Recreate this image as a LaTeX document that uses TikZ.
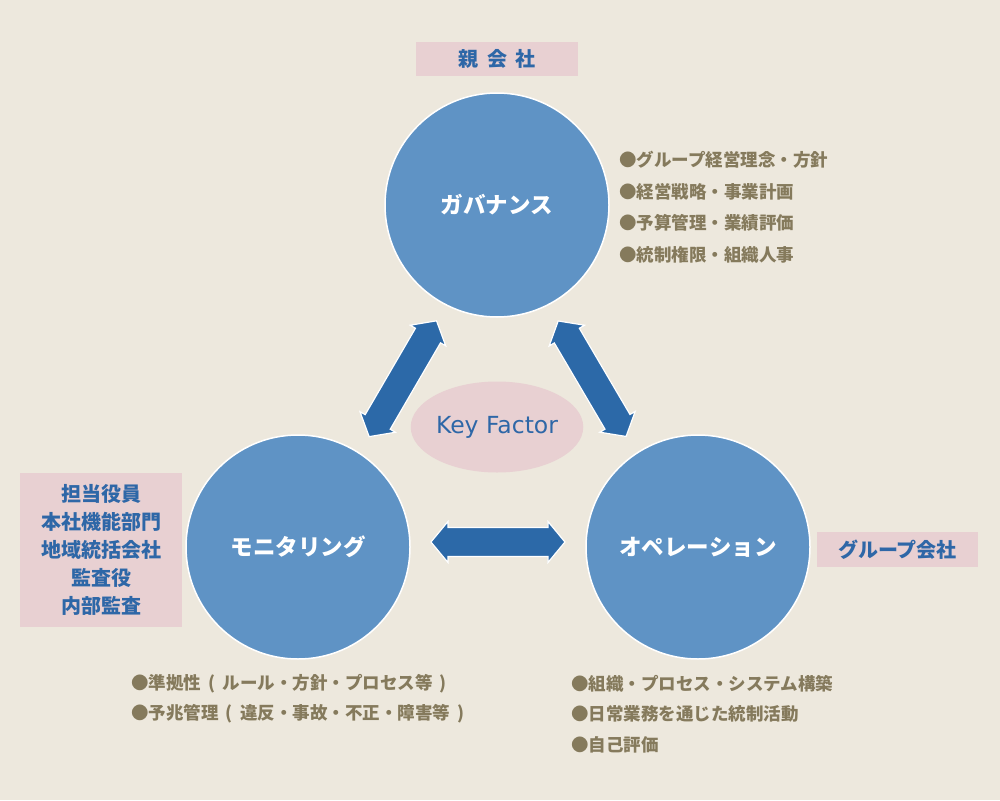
\documentclass[tikz,border=0pt]{standalone}
\usepackage{fontspec}
\setmainfont{Noto Sans CJK JP}
\newfontfamily\jpfont{Noto Sans CJK JP}
\newfontfamily\widejpfont{Noto Sans CJK JP}[WordSpace=1.8]
\newfontfamily\keyfont{DejaVu Sans}
\usetikzlibrary{shapes.geometric,calc}

\definecolor{paper}{HTML}{EDE8DD}
\definecolor{ballblue}{HTML}{5F93C5}
\definecolor{linkblue}{HTML}{2C69A8}
\definecolor{tagpink}{HTML}{E8D0D2}
\definecolor{tagtext}{HTML}{2E67A7}
\definecolor{notetext}{HTML}{857A5C}

\begin{document}
\begin{tikzpicture}[x=1pt,y=-1pt,
  ball/.style={circle, fill=ballblue, draw=white, line width=1.5pt, minimum size=224pt,
    inner sep=0pt, text=white, font=\jpfont\bfseries\fontsize{22.5}{26}\selectfont},
  tag/.style={fill=tagpink, text=tagtext, inner sep=0pt,
    font=\jpfont\bfseries\fontsize{20}{28}\selectfont},
  note/.style={anchor=west, inner sep=0pt, text=notetext,
    font=\jpfont\bfseries\fontsize{17.5}{21}\selectfont},
  twoway/.pic={
    \filldraw[fill=linkblue, draw=white, line width=1.2pt]
      (-67,0) -- (-50,-20.5) -- (-50,-14.5) -- (50,-14.5) -- (50,-20.5) -- (67,0)
      -- (50,20.5) -- (50,14.5) -- (-50,14.5) -- (-50,20.5) -- cycle;
  }]
\useasboundingbox (0,0) rectangle (1000,800);
\fill[paper] (0,0) rectangle (1000,800);

% the three circles
\node[ball] (gov) at (497,205) {ガバナンス};
\node[ball] (mon) at (298,547) {モニタリング};
\node[ball] (ope) at (698,547) {オペレーション};

\node[ellipse, fill=tagpink, minimum width=167pt, minimum height=91pt, inner sep=0pt,
  text=tagtext, font=\keyfont\fontsize{23.5}{26}\selectfont] (key) at (497,427) {Key Factor};

% arrows between the circles
\path let \p1=($(mon)-(gov)$), \n1={atan2(\y1,\x1)} in
  pic[rotate=\n1] at ($(gov)!0.5!(mon)!6pt!(key)$) {twoway};
\path let \p1=($(ope)-(gov)$), \n1={atan2(\y1,\x1)} in
  pic[rotate=\n1] at ($(gov)!0.5!(ope)!6pt!(key)$) {twoway};
\path let \p1=($(ope)-(mon)$), \n1={atan2(\y1,\x1)} in
  pic[rotate=\n1] at ($(mon)!0.5!(ope)!5pt!(key)$) {twoway};

% labels
\node[tag, minimum width=162pt, minimum height=34pt,
  font=\widejpfont\bfseries\fontsize{20}{24}\selectfont] (parent) at (497,59) {親 会 社};
\node[tag, minimum width=162pt, minimum height=154pt, align=center] (roles) at (101,550)
  {担当役員\\本社機能部門\\地域統括会社\\監査役\\内部監査};
\node[tag, minimum width=161pt, minimum height=35pt] (group) at (897.5,549.5) {グループ会社};

% notes
\node[note] (g1) at (619,160) {●グループ経営理念・方針};
\node[note] (g2) at (619,191.7) {●経営戦略・事業計画};
\node[note] (g3) at (619,223.3) {●予算管理・業績評価};
\node[note] (g4) at (619,255) {●統制権限・組織人事};
\node[note] (m1) at (131,683.5) {●準拠性 ( ルール・方針・プロセス等 )};
\node[note] (m2) at (131,713.5) {●予兆管理 ( 違反・事故・不正・障害等 )};
\node[note] (o1) at (571,683.5) {●組織・プロセス・システム構築};
\node[note] (o2) at (571,714) {●日常業務を通じた統制活動};
\node[note] (o3) at (571,745) {●自己評価};
\end{tikzpicture}
\end{document}
